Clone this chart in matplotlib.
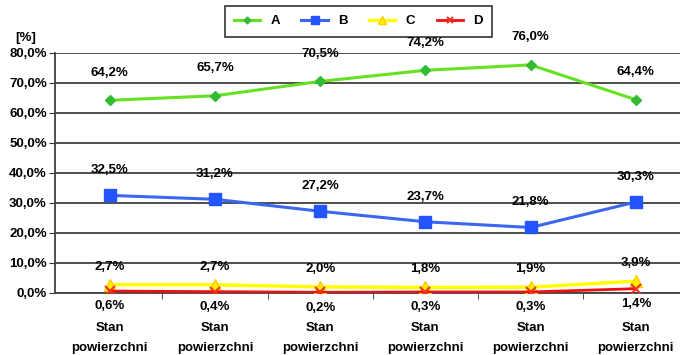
import matplotlib
matplotlib.use("Agg")
import matplotlib.pyplot as plt
import numpy as np

categories = ["Stan\npowierzchni"] * 6
a_vals = [64.2, 65.7, 70.5, 74.2, 76.0, 64.4]
b_vals = [32.5, 31.2, 27.2, 23.7, 21.8, 30.3]
c_vals = [2.7, 2.7, 2.0, 1.8, 1.9, 3.9]
d_vals = [0.6, 0.4, 0.2, 0.3, 0.3, 1.4]
yticks = [0, 10, 20, 30, 40, 50, 60, 70, 80]


def pct(v):
    return f"{v:.1f}%".replace(".", ",")


plt.rcParams["font.family"] = ["Liberation Sans", "DejaVu Sans"]
plt.rcParams["font.weight"] = "bold"

fig = plt.figure(figsize=(6.8, 3.55), dpi=100)
ax = fig.add_axes([0.081, 0.175, 0.919, 0.676])
x = np.arange(len(categories))

ax.plot(x, a_vals, color="#66e022", lw=2.2, marker="D", ms=5, mfc="#33bb33", mec="#33bb33", label="A", zorder=4)
ax.plot(x, b_vals, color="#3a66f0", lw=2.2, marker="s", ms=8, mfc="#2255ff", mec="#2255ff", label="B", zorder=4)
ax.plot(x, c_vals, color="#ffff00", lw=2.5, marker="^", ms=8, mfc="#ffee00", mec="#ffcc00", label="C", zorder=4)
ax.plot(x, d_vals, color="#ee1111", lw=2.0, marker="x", ms=7, mew=1.5, mec="#ee3322", label="D", zorder=5)

for i in x:
    ax.annotate(pct(a_vals[i]), (i, a_vals[i]), xytext=(0, 20), textcoords="offset points",
                ha="center", va="center", fontsize=9.5, fontweight="bold")
    ax.annotate(pct(b_vals[i]), (i, b_vals[i]), xytext=(0, 18), textcoords="offset points",
                ha="center", va="center", fontsize=9.5, fontweight="bold")
    ax.annotate(pct(c_vals[i]), (i, c_vals[i]), xytext=(0, 13), textcoords="offset points",
                ha="center", va="center", fontsize=9.5, fontweight="bold")
    ax.annotate(pct(d_vals[i]), (i, d_vals[i]), xytext=(0, -11), textcoords="offset points",
                ha="center", va="center", fontsize=9.5, fontweight="bold")

ax.set_ylim(0, 80)
ax.set_xlim(-0.52, 5.42)
ax.set_yticks(yticks)
ax.set_yticklabels([pct(v) for v in yticks], fontsize=9.5, fontweight="bold")
ax.set_xticks(x)
ax.set_xticklabels(categories, fontsize=9.5, fontweight="bold", linespacing=1.85)
ax.set_xticks(x[:-1] + 0.5, minor=True)
ax.tick_params(axis="x", which="major", length=0, pad=21)
ax.tick_params(axis="x", which="minor", length=4, color="#333333", direction="out")
ax.tick_params(axis="y", length=4, color="#333333", pad=2)
ax.grid(axis="y", color="#404040", lw=1.3, zorder=1)
for s in ["top", "right"]:
    ax.spines[s].set_visible(False)
ax.spines["left"].set_color("#404040")
ax.spines["bottom"].set_color("#404040")
ax.spines["left"].set_linewidth(1.3)
ax.spines["bottom"].set_linewidth(1.3)

fig.text(0.022, 0.885, "[%]", fontsize=9.5, fontweight="bold")

leg = fig.legend(loc="center", bbox_to_anchor=(0.527, 0.94), ncol=4, frameon=True,
                 fancybox=False, edgecolor="black", fontsize=9.5, handlelength=2.0,
                 columnspacing=1.6, borderpad=0.7, markerscale=0.7)
leg.get_frame().set_linewidth(1.2)

fig.savefig("out.png", dpi=100)
